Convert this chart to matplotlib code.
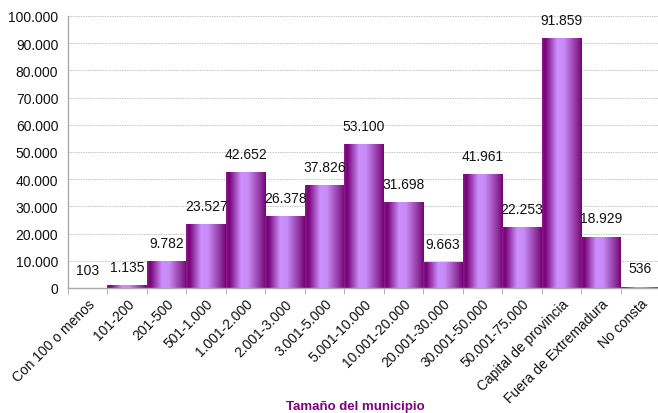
import matplotlib
matplotlib.use("Agg")
import matplotlib.pyplot as plt
import numpy as np
from matplotlib.colors import LinearSegmentedColormap
from matplotlib.ticker import FuncFormatter, MultipleLocator

categories = ["Con 100 o menos", "101-200", "201-500", "501-1.000", "1.001-2.000",
              "2.001-3.000", "3.001-5.000", "5.001-10.000", "10.001-20.000",
              "20.001-30.000", "30.001-50.000", "50.001-75.000",
              "Capital de provincia", "Fuera de Extremadura", "No consta"]
values = [103, 1135, 9782, 23527, 42652, 26378, 37826, 53100, 31698,
          9663, 41961, 22253, 91859, 18929, 536]

plt.rcParams['font.family'] = ['Liberation Sans', 'DejaVu Sans']

fig = plt.figure(figsize=(6.58, 4.14), dpi=100)
ax = fig.add_axes([68/658, 1-289/414, 592/658, (289-17)/414])

x = np.arange(len(categories))
bars = ax.bar(x, values, width=1.0, color='none', edgecolor='none', zorder=2)

cmap = LinearSegmentedColormap.from_list("cyl", [
    (0.0, "#8a1a8a"), (0.08, "#780078"), (0.38, "#cc90fc"),
    (0.55, "#c88cf8"), (0.88, "#8c2c98"), (1.0, "#760076")])
grad = np.linspace(0, 1, 256).reshape(1, -1)
for b in bars:
    x0, w, h = b.get_x(), b.get_width(), b.get_height()
    im = ax.imshow(grad, cmap=cmap, aspect='auto', extent=(x0, x0 + w, 0, h),
                   zorder=2, interpolation='bilinear')
    im.set_clip_path(b)

for xi, v in zip(x, values):
    lab = f"{v:,}".replace(",", ".")
    ax.annotate(lab, (xi, v), xytext=(0, 13), textcoords='offset points',
                ha='center', va='center', fontsize=10, color='#111111', zorder=3)

ax.set_xlim(-0.5, len(categories) - 0.5)
ax.set_ylim(0, 100000)
ax.yaxis.set_major_locator(MultipleLocator(10000))
ax.yaxis.set_major_formatter(FuncFormatter(lambda v, p: f"{int(v):,}".replace(",", ".")))
ax.yaxis.grid(True, color='#c4c4c4', linestyle=(0, (1.5, 1)), linewidth=0.7, zorder=0)
ax.set_axisbelow(True)

ax.set_xticks(x)
ax.set_xticklabels(categories, rotation=45, ha='right', rotation_mode='anchor',
                   fontsize=10, color='#111111')
ax.set_xticks(np.arange(-0.5, len(categories)), minor=True)
ax.tick_params(axis='x', which='major', length=0, pad=6)
ax.tick_params(axis='x', which='minor', length=4, color='#aaaaaa')
ax.tick_params(axis='y', length=0, labelsize=10, labelcolor='#111111', pad=7)

for s in ['top', 'right']:
    ax.spines[s].set_visible(False)
for s in ['left', 'bottom']:
    ax.spines[s].set_color('#aaaaaa')
    ax.spines[s].set_linewidth(1.0)

fig.text(355/658, 1-407/414, "Tamaño del municipio", ha='center', va='center',
         fontsize=9.5, fontweight='bold', color='#800080')

fig.savefig("out.png", dpi=100)
